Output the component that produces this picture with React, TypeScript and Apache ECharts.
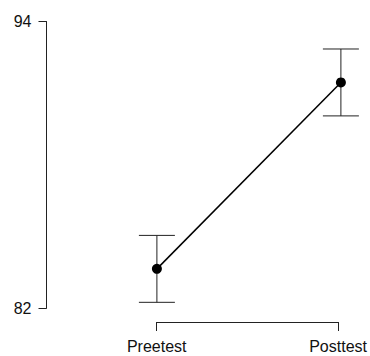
import React, { useEffect, useRef } from "react";
import * as echarts from "echarts";

const categories = ["Preetest", "Posttest"];
const means = [83.65, 91.45];
const errors = [1.4, 1.4];
const yTicks = [82, 94];

export default function App() {
  const ref = useRef<HTMLDivElement>(null);
  useEffect(() => {
    if (!ref.current) return;
    const chart = echarts.init(ref.current, undefined, { renderer: "svg" });
    const font = "'Liberation Sans', Arial, sans-serif";
    const pts = means.map((m, i) => [i + 1, m]);
    const errData = means.map((m, i) => [i + 1, m - errors[i], m + errors[i]]);
    chart.setOption({
      animation: false,
      backgroundColor: "#fff",
      grid: [
        { left: 46.5, top: 21.5, bottom: 47.7, right: 10.7 },
        { left: 156.7, right: 29.3, top: 321, height: 1 },
      ],
      xAxis: [
        { gridIndex: 0, type: "value", min: 0.4, max: 2.1, show: false },
        {
          gridIndex: 1,
          type: "category",
          data: categories,
          boundaryGap: false,
          position: "bottom",
          axisLine: { show: true, lineStyle: { color: "#222", width: 1 } },
          axisTick: { show: true, length: 9, lineStyle: { color: "#222", width: 1 } },
          axisLabel: { margin: 16, fontSize: 16, color: "#111", fontFamily: font, interval: 0 },
          splitLine: { show: false },
        },
      ],
      yAxis: [
        {
          gridIndex: 0,
          type: "value",
          min: yTicks[0],
          max: yTicks[1],
          interval: yTicks[1] - yTicks[0],
          axisLine: { show: true, lineStyle: { color: "#222", width: 1 } },
          axisTick: { show: true, length: 8, lineStyle: { color: "#222", width: 1 } },
          axisLabel: { margin: 15, fontSize: 16, color: "#111", fontFamily: font },
          splitLine: { show: false },
        },
        { gridIndex: 1, type: "value", show: false },
      ],
      series: [
        {
          type: "custom",
          xAxisIndex: 0,
          yAxisIndex: 0,
          data: errData,
          renderItem: (params: any, api: any) => {
            const x = api.value(0);
            const lo = api.coord([x, api.value(1)]);
            const hi = api.coord([x, api.value(2)]);
            const hw = 18;
            const style = { stroke: "#222", lineWidth: 1 };
            return {
              type: "group",
              children: [
                { type: "line", shape: { x1: lo[0], y1: lo[1], x2: hi[0], y2: hi[1] }, style },
                { type: "line", shape: { x1: hi[0] - hw, y1: hi[1], x2: hi[0] + hw, y2: hi[1] }, style },
                { type: "line", shape: { x1: lo[0] - hw, y1: lo[1], x2: lo[0] + hw, y2: lo[1] }, style },
              ],
            };
          },
          z: 1,
        },
        {
          type: "line",
          xAxisIndex: 0,
          yAxisIndex: 0,
          data: pts,
          symbol: "circle",
          symbolSize: 10,
          showSymbol: true,
          lineStyle: { color: "#000", width: 1.5 },
          itemStyle: { color: "#000" },
          z: 2,
        },
      ],
    });
    return () => chart.dispose();
  }, []);
  return (
    <div
      ref={ref}
      style={{ position: "fixed", left: 0, top: 0, width: 370, height: 356 }}
    />
  );
}
